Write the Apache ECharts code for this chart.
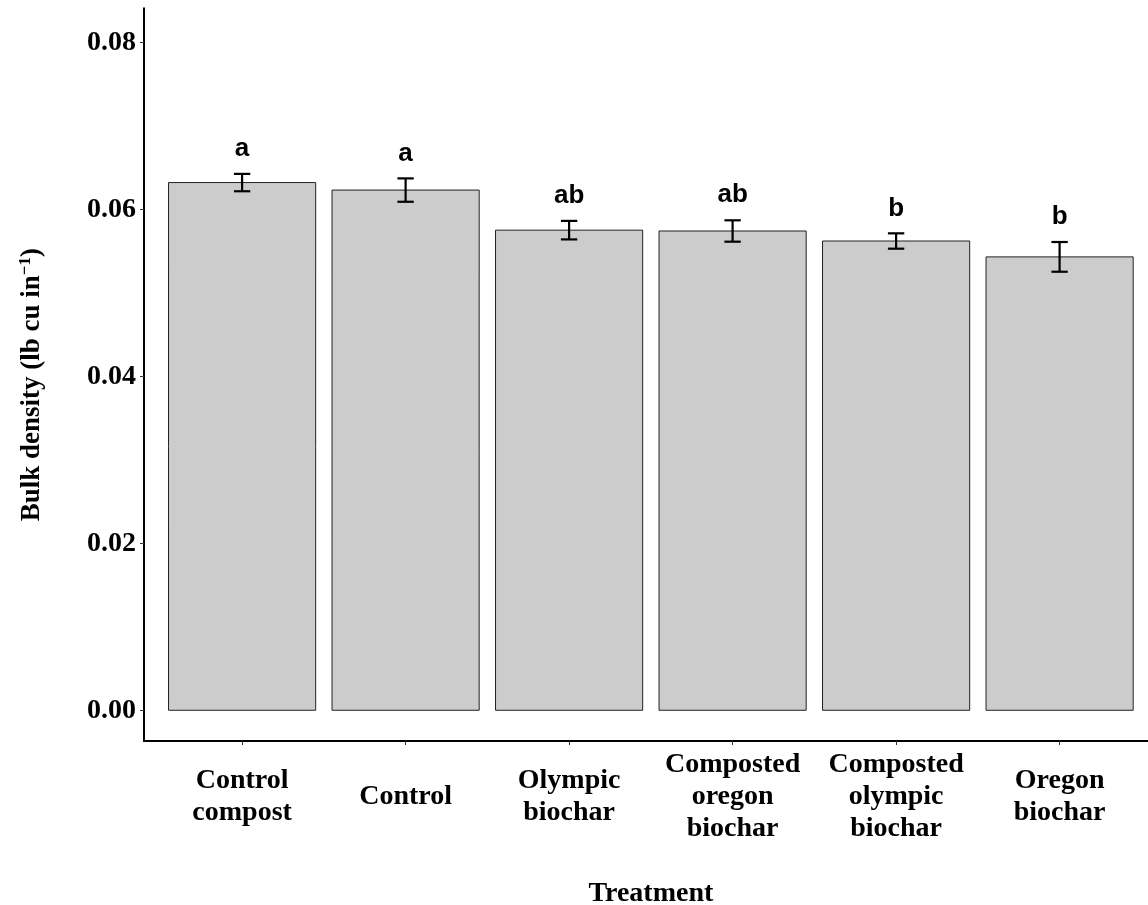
<!DOCTYPE html>
<html>
<head>
<meta charset="utf-8">
<script src="https://cdn.jsdelivr.net/npm/echarts@6/dist/echarts.min.js"></script>
<style>
  html, body { margin: 0; padding: 0; background: #fff; overflow: hidden; width: 1148px; height: 905px; }
  #chart { width: 1148px; height: 905px; display: block; }
</style>
</head>
<body>
<div id="chart"></div>
<script>
// Treatments along the x axis (positions 1..6)
const categories = ['Control\ncompost', 'Control', 'Olympic\nbiochar', 'Composted\noregon\nbiochar', 'Composted\nolympic\nbiochar', 'Oregon\nbiochar'];
// Mean bulk density per treatment (lb cu in^-1)
const means = [0.0632, 0.0623, 0.0575, 0.0574, 0.0562, 0.0543];
// Standard error per treatment
const stdErr = [0.00104, 0.0014, 0.00111, 0.00128, 0.00092, 0.00178];
// Significance group letters
const letters = ['a', 'a', 'ab', 'ab', 'b', 'b'];
// Y tick values
const yTicks = [0, 0.02, 0.04, 0.06, 0.08];

const serif = "'Liberation Serif', 'Times New Roman', serif";
const sans = "'Liberation Sans', Arial, sans-serif";

const barData = means.map((m, i) => [i + 1, m]);
const errData = means.map((m, i) => [i + 1, m, stdErr[i], letters[i]]);

const chart = echarts.init(document.getElementById('chart'), null, { renderer: 'canvas', width: 1148, height: 905 });

chart.setOption({
  backgroundColor: '#ffffff',
  animation: false,
  grid: { left: 144, top: 8.3, width: 1013.7, bottom: 164, containLabel: false, outerBoundsMode: 'none' },
  xAxis: {
    type: 'value',
    min: 0.4,
    max: 6.6,
    name: 'Treatment',
    nameLocation: 'middle',
    nameGap: 139,
    nameTextStyle: { fontFamily: serif, fontWeight: 'bold', fontSize: 28, color: '#000' },
    axisLine: { show: true, onZero: false, lineStyle: { color: '#000', width: 2 } },
    axisTick: { show: true, customValues: [1, 2, 3, 4, 5, 6], length: 4, lineStyle: { color: '#333', width: 1 } },
    axisLabel: {
      customValues: [1, 2, 3, 4, 5, 6],
      formatter: v => categories[Math.round(v) - 1],
      fontFamily: serif, fontWeight: 'bold', fontSize: 28, color: '#000',
      lineHeight: 32, align: 'center', verticalAlign: 'middle', margin: 56
    },
    splitLine: { show: false }
  },
  yAxis: {
    type: 'value',
    min: -0.00368,
    max: 0.08407,
    name: '{t|Bulk density (lb cu in}{s|−1}{t|)}',
    nameLocation: 'middle',
    nameRotate: 90,
    nameGap: 97,
    nameTextStyle: {
      padding: [0, 20, 0, 0],
      rich: {
        t: { fontFamily: serif, fontWeight: 'bold', fontSize: 27, color: '#000', lineHeight: 30 },
        s: { fontFamily: serif, fontWeight: 'bold', fontSize: 17, color: '#000', lineHeight: 30, verticalAlign: 'top' }
      }
    },
    axisLine: { show: true, onZero: false, lineStyle: { color: '#000', width: 2 } },
    axisTick: { show: true, customValues: yTicks, length: 4, lineStyle: { color: '#333', width: 1 } },
    axisLabel: {
      customValues: yTicks,
      formatter: v => v.toFixed(2),
      fontFamily: serif, fontWeight: 'bold', fontSize: 28, color: '#000', margin: 8
    },
    splitLine: { show: false }
  },
  series: [
    {
      name: 'bars',
      type: 'custom',
      data: barData,
      renderItem: (params, api) => {
        const x = api.value(0), y = api.value(1);
        const p0 = api.coord([x - 0.45, y]);
        const p1 = api.coord([x + 0.45, 0]);
        return {
          type: 'rect',
          shape: { x: p0[0], y: p0[1], width: p1[0] - p0[0], height: p1[1] - p0[1] },
          style: { fill: '#cccccc', stroke: '#222', lineWidth: 1 }
        };
      }
    },
    {
      name: 'errors',
      type: 'custom',
      data: errData,
      renderItem: (params, api) => {
        const x = api.value(0), m = api.value(1), se = api.value(2);
        const letter = letters[params.dataIndex];
        const top = api.coord([x, m + se]);
        const bot = api.coord([x, m - se]);
        const l = api.coord([x - 0.05, m])[0];
        const r = api.coord([x + 0.05, m])[0];
        const ls = { stroke: '#000', lineWidth: 2.2 };
        return {
          type: 'group',
          children: [
            { type: 'line', shape: { x1: top[0], y1: top[1], x2: bot[0], y2: bot[1] }, style: ls },
            { type: 'line', shape: { x1: l, y1: top[1], x2: r, y2: top[1] }, style: ls },
            { type: 'line', shape: { x1: l, y1: bot[1], x2: r, y2: bot[1] }, style: ls },
            {
              type: 'text',
              style: {
                text: letter, x: top[0], y: top[1] - 12,
                align: 'center', verticalAlign: 'bottom',
                fontFamily: sans, fontWeight: 'bold', fontSize: 26, fill: '#000'
              }
            }
          ]
        };
      }
    }
  ]
});
</script>
</body>
</html>
